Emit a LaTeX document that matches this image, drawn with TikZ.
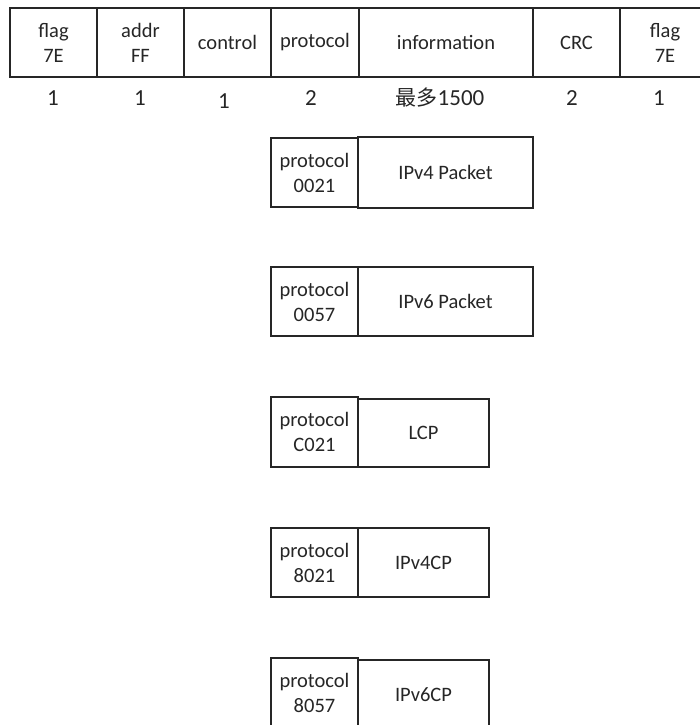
\documentclass[tikz,border=0pt]{standalone}
\usepackage{fontspec}
\setmainfont{Carlito}
\newfontfamily\cjk{Noto Sans CJK SC}
\begin{document}
\begin{tikzpicture}[x=1pt,y=-1pt,
  box/.style={draw=black!85, line width=1.2pt, inner sep=0pt, outer sep=0pt, anchor=north west, align=center, font=\fontsize{20.5}{25}\selectfont, text=black!85},
  num/.style={inner sep=0pt, font=\fontsize{23}{25}\selectfont, text=black!85}]
\useasboundingbox (0,0) rectangle (700,725);
\clip (0,0) rectangle (700,725);
% top frame
\node[box, minimum width=87pt, minimum height=69pt] (f1) at (10,8) {flag\\7E};
\node[box, minimum width=87pt, minimum height=69pt] (ad) at (97,8) {addr\\FF};
\node[box, minimum width=87pt, minimum height=69pt] (ct) at (184,8) {control};
\node[box, minimum width=88pt, minimum height=69pt] (pr) at (271,8) {protocol};
\node[box, minimum width=174pt, minimum height=69pt] (in) at (359,8) {information};
\node[box, minimum width=87pt, minimum height=69pt] (cr) at (533,8) {CRC};
\node[box, minimum width=90pt, minimum height=69pt] (f2) at (620,8) {flag\\7E};
% sizes
\node[num] (n1) at (53,98) {1};
\node[num] (n2) at (140,98) {1};
\node[num] (n3) at (224,101) {1};
\node[num] (n4) at (311,98) {2};
\node[num] (n5) at (440,98) {{\cjk\fontsize{21}{25}\selectfont 最多}1500};
\node[num] (n6) at (572,98) {2};
\node[num] (n7) at (659,98) {1};
% sub frames
\node[box, minimum width=87pt, minimum height=69pt] (p1) at (271,138) {protocol\\0021};
\node[box, minimum width=175pt, minimum height=71pt] (i1) at (358,137) {IPv4 Packet};
\node[box, minimum width=87pt, minimum height=69pt] (p2) at (271,267) {protocol\\0057};
\node[box, minimum width=175pt, minimum height=69pt] (i2) at (358,267) {IPv6 Packet};
\node[box, minimum width=87pt, minimum height=70pt] (p3) at (271,397) {protocol\\C021};
\node[box, minimum width=131pt, minimum height=68pt] (i3) at (358,399) {LCP};
\node[box, minimum width=87pt, minimum height=69pt] (p4) at (271,528) {protocol\\8021};
\node[box, minimum width=131pt, minimum height=69pt] (i4) at (358,528) {IPv4CP};
\node[box, minimum width=87pt, minimum height=69pt] (p5) at (271,658) {protocol\\8057};
\node[box, minimum width=131pt, minimum height=69pt] (i5) at (358,660) {IPv6CP};
\end{tikzpicture}
\end{document}
